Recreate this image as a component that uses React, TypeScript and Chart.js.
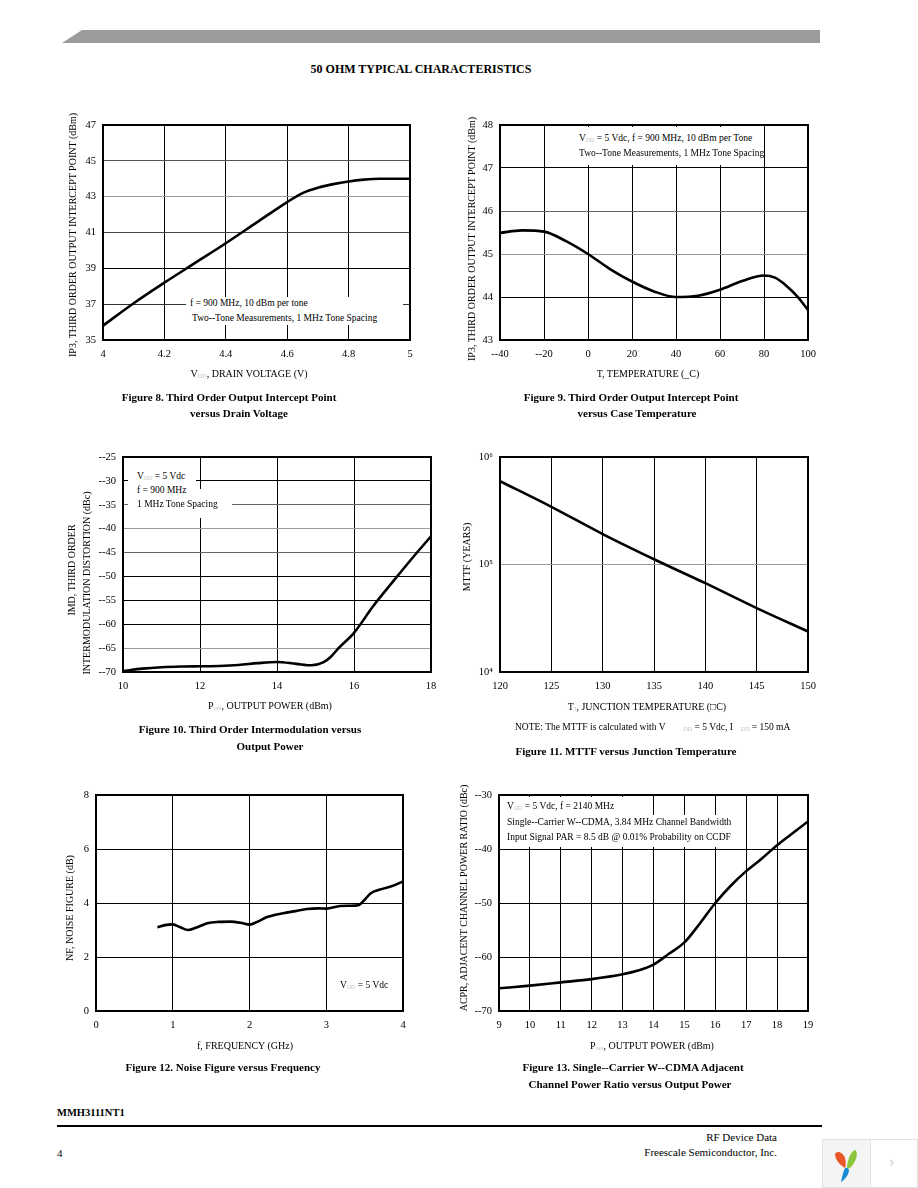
import React, { useEffect, useRef } from 'react';
import { Chart, registerables } from 'chart.js';

Chart.register(...registerables);

// ---------------- DATA ----------------
// Figure 8: IP3 vs drain voltage
const fig8Voltage = [4.0, 4.1, 4.2, 4.3, 4.4, 4.5, 4.6, 4.65, 4.7, 4.75, 4.8, 4.85, 4.9, 5.0];
const fig8IP3 = [35.8, 37.05, 38.2, 39.3, 40.4, 41.55, 42.7, 43.2, 43.5, 43.7, 43.85, 43.95, 44.0, 44.0];
const fig8XTicks = [4, 4.2, 4.4, 4.6, 4.8, 5];
const fig8XTickLabels = ['4', '4.2', '4.4', '4.6', '4.8', '5'];
const fig8YTicks = [35, 37, 39, 41, 43, 45, 47];
const fig8YTickLabels = ['35', '37', '39', '41', '43', '45', '47'];

// Figure 9: IP3 vs case temperature
const fig9Temp = [-40, -30, -20, -10, 0, 10, 20, 30, 40, 50, 60, 70, 80, 85, 90, 95, 100];
const fig9IP3 = [45.49, 45.55, 45.52, 45.3, 45.0, 44.65, 44.36, 44.13, 44.0, 44.03, 44.17, 44.37, 44.5, 44.45, 44.27, 44.02, 43.7];
const fig9XTicks = [-40, -20, 0, 20, 40, 60, 80, 100];
const fig9XTickLabels = ['--40', '--20', '0', '20', '40', '60', '80', '100'];
const fig9YTicks = [43, 44, 45, 46, 47, 48];
const fig9YTickLabels = ['43', '44', '45', '46', '47', '48'];

// Figure 10: IMD vs output power
const fig10Pout = [10, 10.5, 11, 11.5, 12, 12.5, 13, 13.5, 14, 14.5, 14.9, 15.2, 15.4, 15.6, 16, 16.5, 17, 17.5, 18];
const fig10IMD = [-69.8, -69.3, -69.0, -68.85, -68.8, -68.75, -68.55, -68.15, -67.9, -68.3, -68.6, -68.0, -66.8, -65.0, -61.8, -56.2, -51.2, -46.3, -41.6];
const fig10XTicks = [10, 12, 14, 16, 18];
const fig10XTickLabels = ['10', '12', '14', '16', '18'];
const fig10YTicks = [-70, -65, -60, -55, -50, -45, -40, -35, -30, -25];
const fig10YTickLabels = ['--70', '--65', '--60', '--55', '--50', '--45', '--40', '--35', '--30', '--25'];

// Figure 11: MTTF vs junction temperature
const fig11Tj = [120, 125, 130, 135, 140, 145, 150];
const fig11MTTF = [595000, 344000, 192000, 112000, 67000, 39300, 23800];
const fig11XTicks = [120, 125, 130, 135, 140, 145, 150];
const fig11XTickLabels = ['120', '125', '130', '135', '140', '145', '150'];
const fig11YTicks = [10000, 100000, 1000000];
const fig11YTickLabels = ['10\u2074', '10\u2075', '10\u2076'];

// Figure 12: noise figure vs frequency
const fig12Freq = [0.8, 0.9, 1.0, 1.1, 1.2, 1.3, 1.45, 1.6, 1.75, 1.9, 2.0, 2.1, 2.22, 2.44, 2.6, 2.75, 2.9, 3.0, 3.18, 3.3, 3.42, 3.5, 3.58, 3.7, 3.85, 4.0];
const fig12NF = [3.1, 3.18, 3.21, 3.1, 3.0, 3.08, 3.25, 3.3, 3.31, 3.26, 3.2, 3.3, 3.47, 3.62, 3.7, 3.78, 3.8, 3.79, 3.89, 3.9, 3.92, 4.12, 4.36, 4.5, 4.62, 4.8];
const fig12XTicks = [0, 1, 2, 3, 4];
const fig12XTickLabels = ['0', '1', '2', '3', '4'];
const fig12YTicks = [0, 2, 4, 6, 8];
const fig12YTickLabels = ['0', '2', '4', '6', '8'];

// Figure 13: ACPR vs output power
const fig13Pout = [9, 10, 11, 12, 13, 13.5, 14, 14.5, 15, 15.5, 16, 16.5, 17, 17.5, 18, 18.5, 19];
const fig13ACPR = [-65.8, -65.3, -64.7, -64.1, -63.2, -62.5, -61.4, -59.4, -57.3, -53.8, -50.0, -46.8, -44.1, -41.8, -39.3, -37.1, -34.9];
const fig13XTicks = [9, 10, 11, 12, 13, 14, 15, 16, 17, 18, 19];
const fig13XTickLabels = ['9', '10', '11', '12', '13', '14', '15', '16', '17', '18', '19'];
const fig13YTicks = [-70, -60, -50, -40, -30];
const fig13YTickLabels = ['--70', '--60', '--50', '--40', '--30'];

// ---------------- LAYOUT / STYLE ----------------
const SERIF = '"Liberation Serif", "Times New Roman", Times, serif';
const Y_W = 46;
const X_H = 30;
const PAD_T = 18;
const PAD_R = 26;

type Spec = {
  plot: [number, number, number, number];
  xs: number[];
  ys: number[];
  xMin: number;
  xMax: number;
  xTicks: number[];
  xLabels: string[];
  yMin: number;
  yMax: number;
  yTicks: number[];
  yLabels: string[];
  yLog?: boolean;
  yGrid?: string[];
};

const framePlugin = {
  id: 'frame',
  beforeDatasetsDraw(chart: any) {
    const { ctx, chartArea: a } = chart;
    ctx.save();
    ctx.strokeStyle = '#000';
    ctx.lineWidth = 2;
    ctx.strokeRect(a.left, a.top, a.right - a.left, a.bottom - a.top);
    ctx.restore();
  },
};

function LineChart({ spec }: { spec: Spec }) {
  const ref = useRef<HTMLCanvasElement | null>(null);
  const [l, t, r, b] = spec.plot;
  const w = Y_W + (r - l) + PAD_R;
  const h = PAD_T + (b - t) + X_H;
  useEffect(() => {
    const canvas = ref.current;
    if (!canvas) return;
    const tickFont = { family: SERIF, size: 10.5 };
    const chart = new Chart(canvas, {
      type: 'line',
      data: {
        datasets: [
          {
            data: spec.xs.map((x, i) => ({ x, y: spec.ys[i] })),
            borderColor: '#000',
            borderWidth: 2.6,
            pointRadius: 0,
            fill: false,
            cubicInterpolationMode: 'monotone',
          },
        ],
      },
      options: {
        animation: false,
        responsive: false,
        devicePixelRatio: 1,
        layout: { padding: { top: PAD_T, right: PAD_R, left: 0, bottom: 0 } },
        plugins: { legend: { display: false }, tooltip: { enabled: false } },
        scales: {
          x: {
            type: 'linear',
            min: spec.xMin,
            max: spec.xMax,
            afterBuildTicks: (s: any) => {
              s.ticks = spec.xTicks.map((v) => ({ value: v }));
            },
            afterFit: (s: any) => {
              s.height = X_H;
            },
            ticks: {
              callback: (_v: any, i: number) => spec.xLabels[i],
              font: tickFont,
              color: '#000',
              padding: 8,
              autoSkip: false,
              maxRotation: 0,
            },
            grid: { color: '#000', lineWidth: 1, drawTicks: false },
            border: { display: false },
          },
          y: {
            type: spec.yLog ? 'logarithmic' : 'linear',
            min: spec.yMin,
            max: spec.yMax,
            afterBuildTicks: (s: any) => {
              s.ticks = spec.yTicks.map((v) => ({ value: v }));
            },
            afterFit: (s: any) => {
              s.width = Y_W;
            },
            ticks: {
              callback: (_v: any, i: number) => spec.yLabels[i],
              font: tickFont,
              color: '#000',
              padding: 7,
              autoSkip: false,
            },
            grid: {
              color: (ctx: any) => {
                const v = ctx.tick ? ctx.tick.value : null;
                const i = spec.yTicks.indexOf(v);
                return (spec.yGrid && spec.yGrid[i]) || '#000';
              },
              lineWidth: 1,
              drawTicks: false,
            },
            border: { display: false },
          },
        },
      } as any,
      plugins: [framePlugin],
    });
    return () => chart.destroy();
  }, [spec]);
  return (
    <canvas
      ref={ref}
      width={w}
      height={h}
      style={{ position: 'absolute', left: l - Y_W, top: t - PAD_T, width: w, height: h }}
    />
  );
}

const specs: Spec[] = [
  {
    plot: [103, 125, 410, 340],
    xs: fig8Voltage, ys: fig8IP3,
    xMin: 4, xMax: 5, xTicks: fig8XTicks, xLabels: fig8XTickLabels,
    yMin: 35, yMax: 47, yTicks: fig8YTicks, yLabels: fig8YTickLabels,
    yGrid: ['#000', '#333', '#000', '#444', '#9a9a9a', '#555', '#000'],
  },
  {
    plot: [500, 125, 808, 340],
    xs: fig9Temp, ys: fig9IP3,
    xMin: -40, xMax: 100, xTicks: fig9XTicks, xLabels: fig9XTickLabels,
    yMin: 43, yMax: 48, yTicks: fig9YTicks, yLabels: fig9YTickLabels,
    yGrid: ['#000', '#000', '#9a9a9a', '#666', '#000', '#000'],
  },
  {
    plot: [123, 457, 431, 672],
    xs: fig10Pout, ys: fig10IMD,
    xMin: 10, xMax: 18, xTicks: fig10XTicks, xLabels: fig10XTickLabels,
    yMin: -70, yMax: -25, yTicks: fig10YTicks, yLabels: fig10YTickLabels,
    yGrid: ['#000', '#9a9a9a', '#000', '#000', '#000', '#666', '#9a9a9a', '#666', '#000', '#000'],
  },
  {
    plot: [500, 457, 808, 672],
    xs: fig11Tj, ys: fig11MTTF,
    xMin: 120, xMax: 150, xTicks: fig11XTicks, xLabels: fig11XTickLabels,
    yMin: 10000, yMax: 1000000, yTicks: fig11YTicks, yLabels: fig11YTickLabels, yLog: true,
    yGrid: ['#000', '#9a9a9a', '#000'],
  },
  {
    plot: [96, 795, 403, 1011],
    xs: fig12Freq, ys: fig12NF,
    xMin: 0, xMax: 4, xTicks: fig12XTicks, xLabels: fig12XTickLabels,
    yMin: 0, yMax: 8, yTicks: fig12YTicks, yLabels: fig12YTickLabels,
  },
  {
    plot: [499, 795, 808, 1011],
    xs: fig13Pout, ys: fig13ACPR,
    xMin: 9, xMax: 19, xTicks: fig13XTicks, xLabels: fig13XTickLabels,
    yMin: -70, yMax: -30, yTicks: fig13YTicks, yLabels: fig13YTickLabels,
  },
];

type TxtProps = {
  x: number;
  y: number;
  size?: number;
  bold?: boolean;
  align?: 'left' | 'center' | 'right';
  rotate?: boolean;
  children: React.ReactNode;
};

function Txt({ x, y, size = 10, bold = false, align = 'center', rotate = false, children }: TxtProps) {
  const tx = align === 'center' ? '-50%' : align === 'right' ? '-100%' : '0';
  return (
    <div
      style={{
        position: 'absolute',
        left: x,
        top: y,
        fontFamily: SERIF,
        fontSize: size,
        fontWeight: bold ? 700 : 400,
        lineHeight: 1,
        whiteSpace: 'nowrap',
        color: '#000',
        transform: rotate ? 'translate(-50%,-50%) rotate(-90deg)' : `translate(${tx},-50%)`,
      }}
    >
      {children}
    </div>
  );
}

function Sub({ children, gap = 0 }: { children: React.ReactNode; gap?: number }) {
  return (
    <span style={{ fontSize: '0.62em', color: '#c4c4c4', verticalAlign: '-0.15em', marginLeft: gap }}>
      {children}
    </span>
  );
}

function WhiteBox({ x, y, w, h }: { x: number; y: number; w: number; h: number }) {
  return <div style={{ position: 'absolute', left: x, top: y, width: w, height: h, background: '#fff' }} />;
}

function Logo() {
  return (
    <div style={{ position: 'absolute', left: 822, top: 1139, width: 96, height: 49, border: '1px solid #e2e2e2', background: '#fff', boxSizing: 'border-box' }}>
      <div style={{ position: 'absolute', left: 0, top: 0, width: 47, height: 47, background: '#f4f4f4', borderRight: '1px solid #e2e2e2' }}>
        <svg width="47" height="47" viewBox="0 0 47 47">
          <path d="M12 14 C14 10 20 12 22 18 C23 22 23 26 22 28 C18 26 12 20 12 14 Z" fill="#e8562a" />
          <path d="M32 10 C36 12 33 22 28 27 C26 29 24 29 24 28 C24 22 27 12 32 10 Z" fill="#8cc63e" />
          <path d="M22 28 C24 27 26 28 26 31 C25 36 21 40 18 42 C19 37 20 32 22 28 Z" fill="#1a8ad4" />
        </svg>
      </div>
      <div style={{ position: 'absolute', left: 66, top: 14, fontFamily: 'DejaVu Sans, sans-serif', fontSize: 14, color: '#c8c8c8' }}>
        &#x203A;
      </div>
    </div>
  );
}

export default function App() {
  return (
    <div style={{ position: 'absolute', left: 0, top: 0, width: 918, height: 1188, background: '#fff', overflow: 'hidden' }}>
      {/* header bar */}
      <div
        style={{
          position: 'absolute', left: 62, top: 30, width: 758, height: 13, background: '#9d9b9d',
          clipPath: 'polygon(20px 0, 100% 0, 100% 100%, 0 100%)',
        }}
      />
      <Txt x={421} y={69} size={12} bold>50 OHM TYPICAL CHARACTERISTICS</Txt>

      {specs.map((s, i) => (
        <LineChart key={i} spec={s} />
      ))}

      {/* Figure 8 */}
      <WhiteBox x={186} y={297} w={217} h={28} />
      <Txt x={190} y={304} size={9.5} align="left">f = 900 MHz, 10 dBm per tone</Txt>
      <Txt x={192} y={319} size={9.5} align="left">Two--Tone Measurements, 1 MHz Tone Spacing</Txt>
      <Txt x={73} y={235} rotate>IP3, THIRD ORDER OUTPUT INTERCEPT POINT (dBm)</Txt>
      <Txt x={249} y={374}>V<Sub>DD</Sub>, DRAIN VOLTAGE (V)</Txt>
      <Txt x={229} y={397} size={11} bold>Figure 8. Third Order Output Intercept Point</Txt>
      <Txt x={239} y={413} size={11} bold>versus Drain Voltage</Txt>

      {/* Figure 9 */}
      <WhiteBox x={575} y={127} w={187} h={38} />
      <Txt x={579} y={139} size={9.5} align="left">V<Sub>DD</Sub> = 5 Vdc, f = 900 MHz, 10 dBm per Tone</Txt>
      <Txt x={579} y={154} size={9.5} align="left">Two--Tone Measurements, 1 MHz Tone Spacing</Txt>
      <Txt x={472} y={239} rotate>IP3, THIRD ORDER OUTPUT INTERCEPT POINT (dBm)</Txt>
      <Txt x={648} y={374}>T, TEMPERATURE (_C)</Txt>
      <Txt x={631} y={397} size={11} bold>Figure 9. Third Order Output Intercept Point</Txt>
      <Txt x={637} y={413} size={11} bold>versus Case Temperature</Txt>

      {/* Figure 10 */}
      <WhiteBox x={128} y={471} w={68} h={18} />
      <WhiteBox x={128} y={489} w={104} h={29} />
      <Txt x={137} y={477} size={9.5} align="left">V<Sub>DD</Sub> = 5 Vdc</Txt>
      <Txt x={137} y={491} size={9.5} align="left">f = 900 MHz</Txt>
      <Txt x={137} y={505} size={9.5} align="left">1 MHz Tone Spacing</Txt>
      <Txt x={72} y={570} rotate>IMD, THIRD ORDER</Txt>
      <Txt x={87} y={583} rotate>INTERMODULATION DISTORTION (dBc)</Txt>
      <Txt x={270} y={706}>P<Sub>out</Sub>, OUTPUT POWER (dBm)</Txt>
      <Txt x={250} y={729} size={11} bold>Figure 10. Third Order Intermodulation versus</Txt>
      <Txt x={270} y={746} size={11} bold>Output Power</Txt>

      {/* Figure 11 */}
      <Txt x={467} y={557} rotate>MTTF (YEARS)</Txt>
      <Txt x={647} y={707}>T<Sub>J</Sub>, JUNCTION TEMPERATURE (□C)</Txt>
      <Txt x={515} y={728} size={9.5} align="left">
        NOTE: The MTTF is calculated with V<Sub gap={18}>DD</Sub> = 5 Vdc, I<Sub gap={8}>DD</Sub> = 150 mA
      </Txt>
      <Txt x={626} y={751} size={11} bold>Figure 11. MTTF versus Junction Temperature</Txt>

      {/* Figure 12 */}
      <Txt x={70} y={908} rotate>NF, NOISE FIGURE (dB)</Txt>
      <Txt x={245} y={1046}>f, FREQUENCY (GHz)</Txt>
      <Txt x={340} y={986} size={9.5} align="left">V<Sub>DD</Sub> = 5 Vdc</Txt>
      <Txt x={223} y={1067} size={11} bold>Figure 12. Noise Figure versus Frequency</Txt>

      {/* Figure 13 */}
      <WhiteBox x={502} y={797} w={143} h={18} />
      <WhiteBox x={502} y={815} w={242} h={32} />
      <Txt x={507} y={807} size={9.5} align="left">V<Sub>DD</Sub> = 5 Vdc, f = 2140 MHz</Txt>
      <Txt x={507} y={823} size={9.5} align="left">Single--Carrier W--CDMA, 3.84 MHz Channel Bandwidth</Txt>
      <Txt x={507} y={838} size={9.5} align="left">Input Signal PAR = 8.5 dB @ 0.01% Probability on CCDF</Txt>
      <Txt x={464} y={898} rotate>ACPR, ADJACENT CHANNEL POWER RATIO (dBc)</Txt>
      <Txt x={652} y={1046}>P<Sub>out</Sub>, OUTPUT POWER (dBm)</Txt>
      <Txt x={633} y={1067} size={11} bold>Figure 13. Single--Carrier W--CDMA Adjacent</Txt>
      <Txt x={630} y={1084} size={11} bold>Channel Power Ratio versus Output Power</Txt>

      {/* footer */}
      <Txt x={57} y={1113} size={10.5} bold align="left">MMH3111NT1</Txt>
      <div style={{ position: 'absolute', left: 57, top: 1125, width: 765, height: 2, background: '#000' }} />
      <Txt x={777} y={1137} size={11} align="right">RF Device Data</Txt>
      <Txt x={57} y={1153} size={11} align="left">4</Txt>
      <Txt x={777} y={1152} size={11} align="right">Freescale Semiconductor, Inc.</Txt>
      <Logo />
    </div>
  );
}
